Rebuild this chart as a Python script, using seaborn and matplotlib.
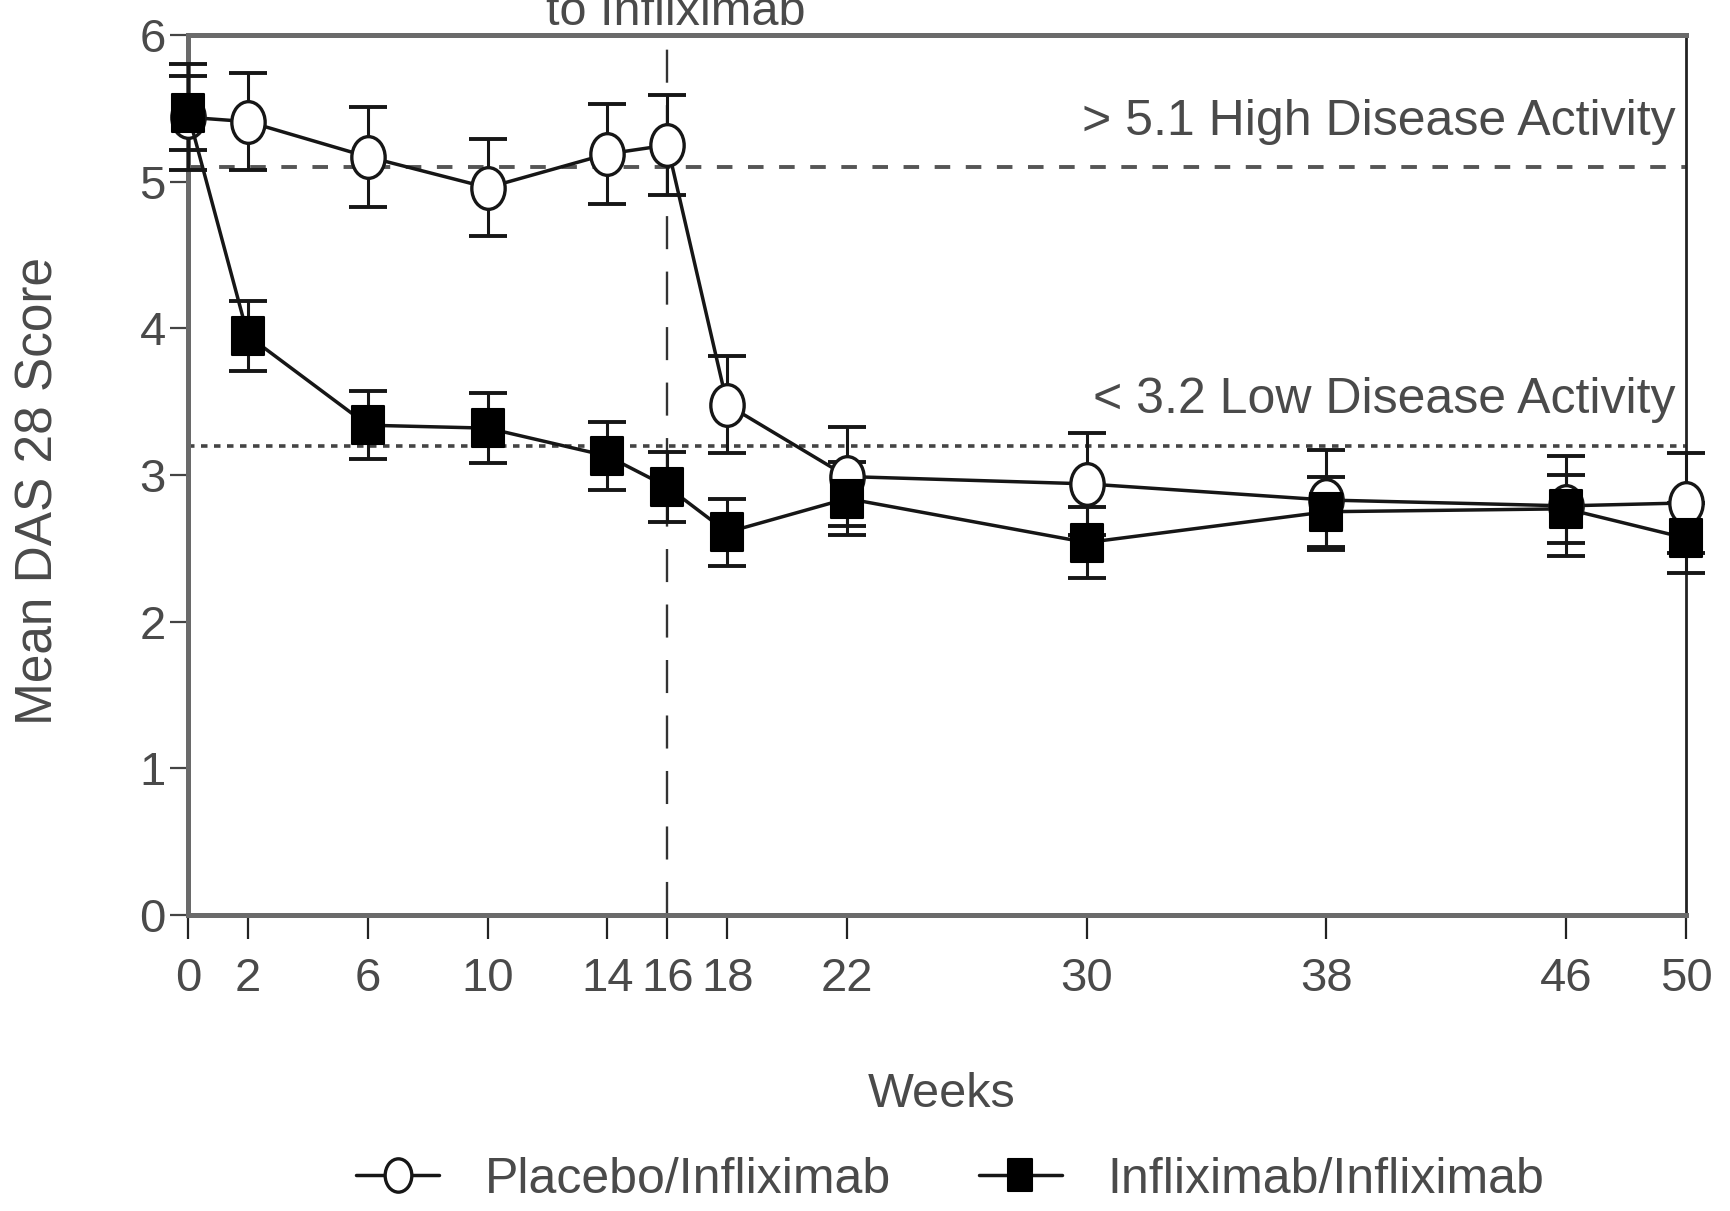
import numpy as np
import pandas as pd
import matplotlib
matplotlib.use("Agg")
import matplotlib.pyplot as plt
from matplotlib.path import Path
import seaborn as sns

# ---------------- data ----------------
weeks = [0, 2, 6, 10, 14, 16, 18, 22, 30, 38, 46, 50]
placebo_mean = [5.44, 5.41, 5.17, 4.96, 5.19, 5.25, 3.48, 2.99, 2.94, 2.83, 2.79, 2.81]
placebo_err = [0.36, 0.33, 0.34, 0.33, 0.34, 0.34, 0.33, 0.34, 0.35, 0.34, 0.34, 0.34]
inflix_mean = [5.47, 3.95, 3.34, 3.32, 3.13, 2.92, 2.61, 2.84, 2.54, 2.75, 2.77, 2.57]
inflix_err = [0.25, 0.24, 0.23, 0.24, 0.23, 0.24, 0.23, 0.25, 0.24, 0.24, 0.23, 0.24]
series_names = ["Placebo/Infliximab", "Infliximab/Infliximab"]
y_ticks = [0, 1, 2, 3, 4, 5, 6]
high_threshold = 5.1
low_threshold = 3.2
switch_week = 16
high_label = "> 5.1 High Disease Activity"
low_label = "< 3.2 Low Disease Activity"
switch_label = "to Infliximab"
x_label = "Weeks"
y_label = "Mean DAS 28 Score"

df = pd.DataFrame({
    "week": weeks * 2,
    "score": placebo_mean + inflix_mean,
    "group": [series_names[0]] * len(weeks) + [series_names[1]] * len(weeks),
})

# ---------------- style ----------------
sns.set_theme(style="white")
plt.rcParams["font.family"] = ["Liberation Sans", "DejaVu Sans"]
TXT = "#4a4a4a"
INK = "#161616"

# slightly tall markers (ellipse / rectangle)
circ = Path.unit_circle()
ellipse_marker = Path(circ.vertices * np.array([0.8, 1.0]), circ.codes)
rect_marker = Path([(-0.4, -0.5), (0.4, -0.5), (0.4, 0.5), (-0.4, 0.5), (-0.4, -0.5)],
                   [Path.MOVETO, Path.LINETO, Path.LINETO, Path.LINETO, Path.CLOSEPOLY])

fig = plt.figure(figsize=(17.31, 12.11), dpi=100)
ax = fig.add_axes([0.1086, 0.2444, 0.8654, 0.7266])

# reference lines
ax.axhline(high_threshold, color="#555555", lw=2.8, ls=(0, (4.0, 4.0)), zorder=1)
ax.axhline(low_threshold, color="#444444", lw=2.6, ls=(0, (1.8, 1.8)), zorder=1)
ax.axvline(switch_week, color="#333333", lw=1.7, ls=(0, (14, 9.5)), zorder=1)

# error bars
ax.errorbar(weeks, placebo_mean, yerr=placebo_err, fmt="none", ecolor=INK,
            elinewidth=2.2, capsize=14, capthick=2.8, clip_on=False, zorder=3)
ax.errorbar(weeks, inflix_mean, yerr=inflix_err, fmt="none", ecolor=INK,
            elinewidth=2.2, capsize=14, capthick=2.8, clip_on=False, zorder=3)

# lines + markers through seaborn
sns.lineplot(data=df[df["group"] == series_names[0]], x="week", y="score", ax=ax,
             color=INK, lw=2.5, marker=ellipse_marker, markersize=30,
             markerfacecolor="white", markeredgecolor=INK, markeredgewidth=2.4,
             errorbar=None, label=series_names[0], clip_on=False, zorder=4)
sns.lineplot(data=df[df["group"] == series_names[1]], x="week", y="score", ax=ax,
             color=INK, lw=2.5, marker=rect_marker, markersize=28,
             markerfacecolor="black", markeredgecolor="black", markeredgewidth=1.5,
             errorbar=None, label=series_names[1], clip_on=False, zorder=5)

# axes
ax.set_xlim(0, 50)
ax.set_ylim(0, 6)
ax.set_xticks(weeks)
ax.set_xticklabels([str(w) for w in weeks])
ax.set_yticks(y_ticks)
ax.set_yticklabels([str(t) for t in y_ticks])
ax.tick_params(axis="x", direction="out", length=17, width=1.6, color="#222222",
               labelsize=34, labelcolor=TXT, pad=13, bottom=True)
ax.tick_params(axis="y", direction="out", length=13, width=1.6, color="#444444",
               labelsize=34, labelcolor=TXT, pad=3, left=True)
for side in ["left", "bottom", "top"]:
    ax.spines[side].set_linewidth(3.6)
    ax.spines[side].set_color("#6a6a6a")
ax.spines["right"].set_linewidth(2.0)
ax.spines["right"].set_color("#222222")

ax.set_xlabel(x_label, fontsize=35, color=TXT)
ax.xaxis.set_label_coords(0.503, -0.218)
ax.xaxis.label.set_va("baseline")
ax.set_ylabel(y_label, fontsize=37, color=TXT)
ax.yaxis.set_label_coords(-0.0995, 0.482)
ax.yaxis.label.set_va("center")

# annotations
ax.text(0.993, 5.32, high_label, transform=ax.get_yaxis_transform(), ha="right",
        va="baseline", fontsize=36, color=TXT)
ax.text(0.993, 3.42, low_label, transform=ax.get_yaxis_transform(), ha="right",
        va="baseline", fontsize=36, color=TXT)
fig.text(0.3905, 0.9794, switch_label, ha="center", va="baseline", fontsize=35, color=TXT)

# legend
handles, labels = ax.get_legend_handles_labels()
ax.get_legend().remove()
fig.legend(handles, labels, loc="center", bbox_to_anchor=(0.549, 0.026), ncol=2,
           frameon=False, fontsize=36, labelcolor=TXT, handlelength=1.66,
           handletextpad=0.92, columnspacing=1.74, markerscale=0.8, borderpad=0)

fig.savefig("out.png", dpi=100)
